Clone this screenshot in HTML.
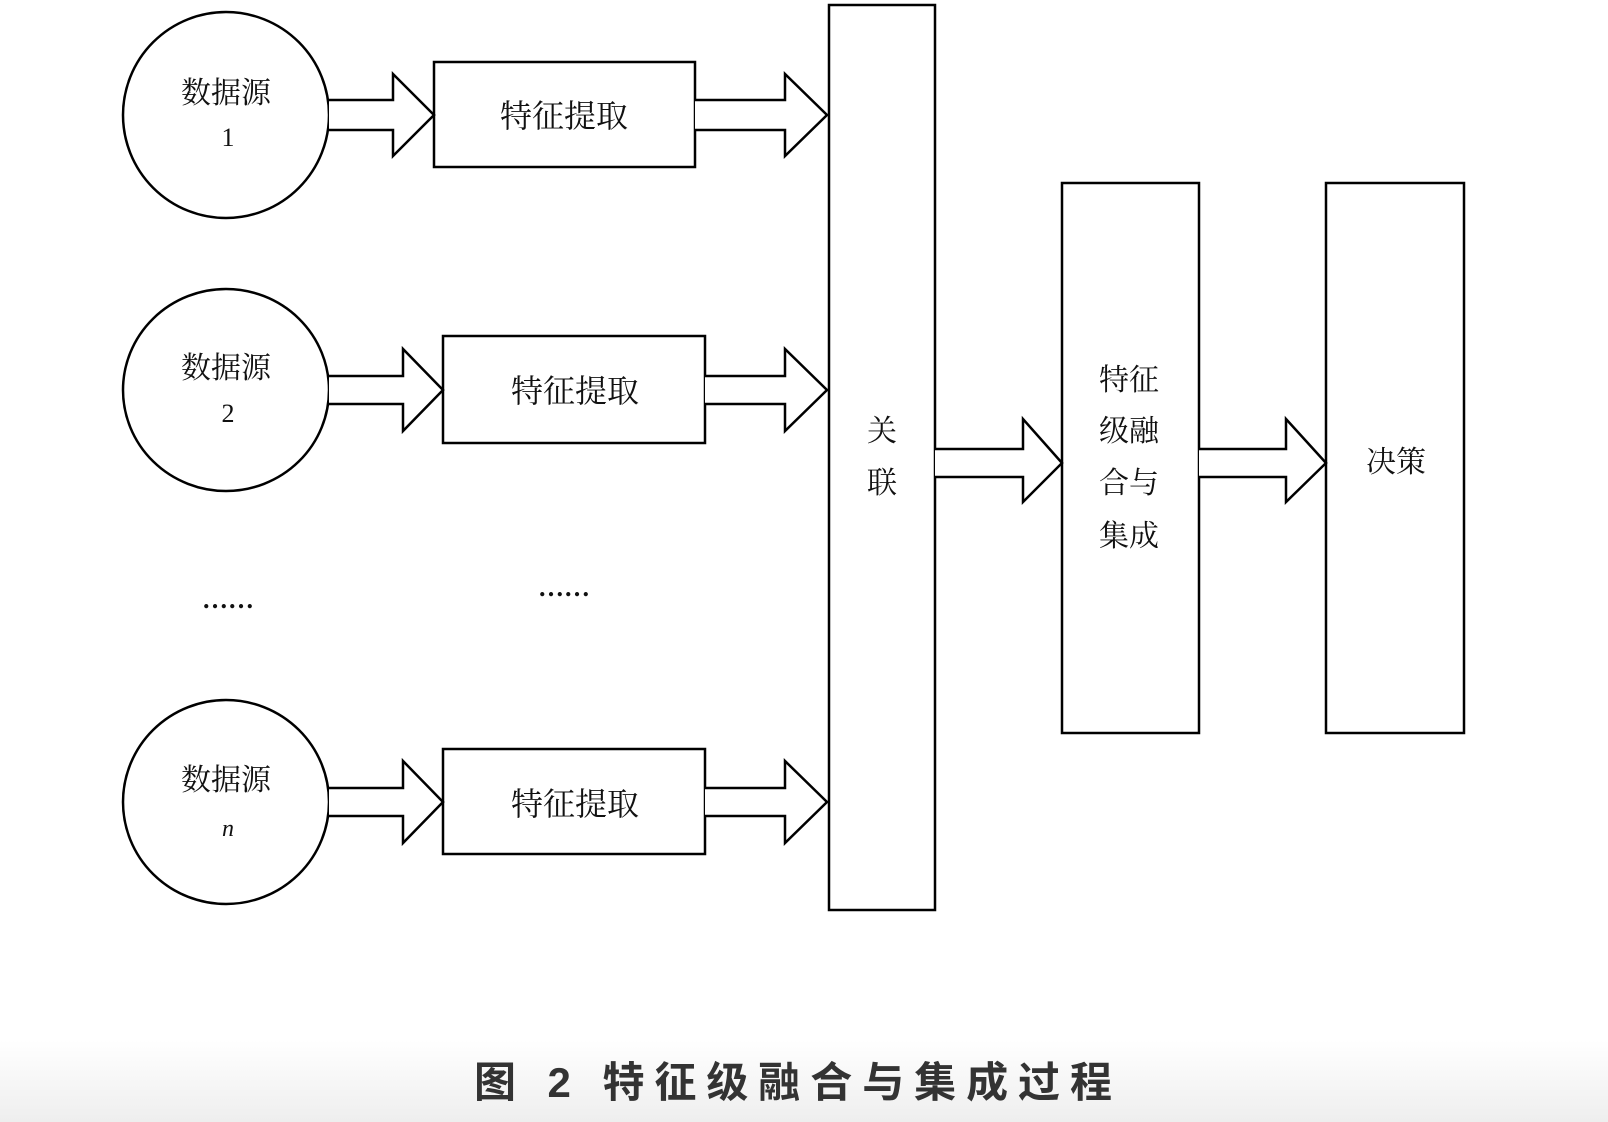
<!DOCTYPE html>
<html><head><meta charset="utf-8"><style>
html,body{margin:0;padding:0;background:#fff;}
svg{display:block;}
text{font-family:"Liberation Serif","Noto Serif CJK SC","Noto Sans CJK SC",serif;fill:#111;}
</style></head><body>
<svg width="1608" height="1122" viewBox="0 0 1608 1122" xmlns="http://www.w3.org/2000/svg">
<defs><linearGradient id="g" x1="0" y1="0" x2="0" y2="1"><stop offset="0" stop-color="#fff"/><stop offset="1" stop-color="#eeeeee"/></linearGradient></defs>
<rect x="0" y="1040" width="1608" height="82" fill="url(#g)"/>
<g fill="#fff" stroke="#000" stroke-width="2.5">
<ellipse cx="226" cy="115" rx="103" ry="103"/>
<ellipse cx="226" cy="390" rx="103" ry="101"/>
<ellipse cx="226" cy="802" rx="103" ry="102"/>
<rect x="434" y="62" width="261" height="105"/>
<rect x="443" y="336" width="262" height="107"/>
<rect x="443" y="749" width="262" height="105"/>
<rect x="829" y="5" width="106" height="905"/>
<rect x="1062" y="183" width="137" height="550"/>
<rect x="1326" y="183" width="138" height="550"/>
<path d="M329 100 H393 V74 L434 115 L393 156 V130 H329"/>
<path d="M695 100 H785 V74 L827 115 L785 156 V130 H695"/>
<path d="M329 376 H403 V349 L443 390 L403 431 V404 H329"/>
<path d="M705 376 H785 V349 L827 390 L785 431 V404 H705"/>
<path d="M329 788 H403 V761 L443 802 L403 843 V816 H329"/>
<path d="M705 788 H785 V761 L827 802 L785 843 V816 H705"/>
<path d="M935 449 H1023 V419 L1062 463 L1023 502 V477 H935"/>
<path d="M1199 449 H1286 V419 L1326 463 L1286 502 V477 H1199"/>
</g>
<g font-size="30" text-anchor="middle">
<text x="226" y="103">数据源</text>
<text x="228" y="146" font-size="26">1</text>
<text x="226" y="378">数据源</text>
<text x="228" y="422" font-size="26">2</text>
<text x="226" y="790">数据源</text>
<text x="228" y="836" font-size="24" font-style="italic">n</text>
<text x="564" y="127" font-size="32">特征提取</text>
<text x="575" y="402" font-size="32">特征提取</text>
<text x="575" y="815" font-size="32">特征提取</text>
<text x="882" y="441">关</text>
<text x="882" y="493">联</text>
<text x="1129" y="390">特征</text>
<text x="1129" y="441">级融</text>
<text x="1129" y="493">合与</text>
<text x="1129" y="546">集成</text>
<text x="1396" y="472">决策</text>
<text x="228" y="608" font-size="26" font-weight="bold">……</text>
<text x="564" y="596" font-size="26" font-weight="bold">……</text>
</g>
<text x="474" y="1097" font-size="42" font-weight="bold" textLength="638" lengthAdjust="spacing" style="font-family:'Liberation Sans','Noto Sans CJK SC',sans-serif;fill:#333">图 2   特征级融合与集成过程</text>
</svg>
</body></html>
